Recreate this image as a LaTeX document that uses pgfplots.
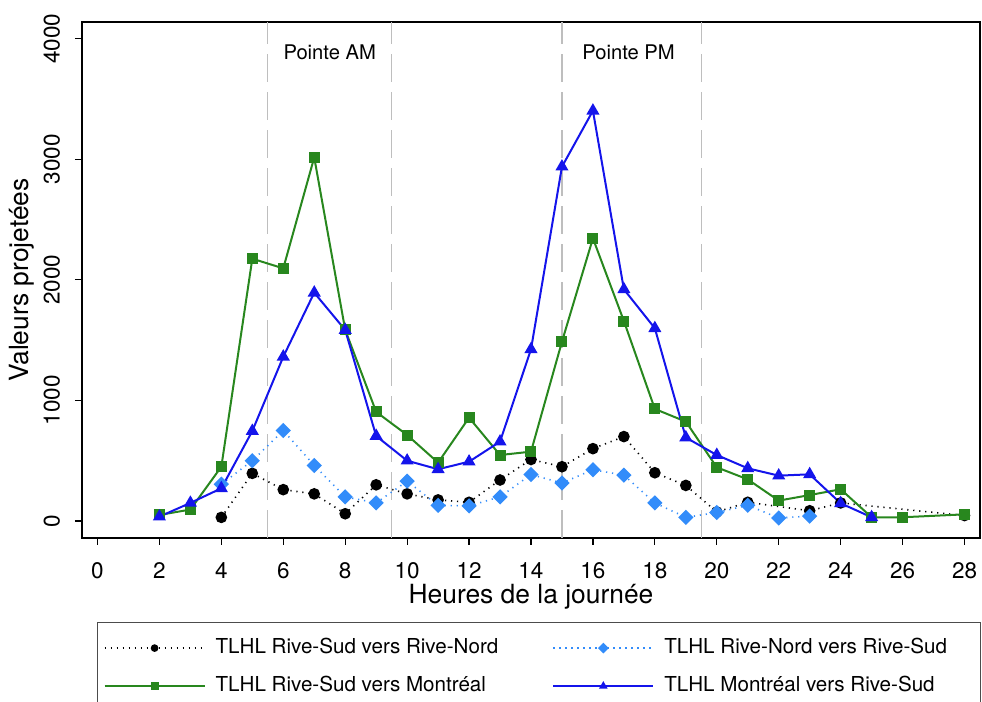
\documentclass[border=0pt]{standalone}
\usepackage{fontspec}
\setmainfont{TeX Gyre Heros}
\usepackage{pgfplots}
\pgfplotsset{compat=1.18}
\definecolor{vert}{RGB}{40,135,30}
\definecolor{bleu}{RGB}{20,20,235}
\definecolor{bleuclair}{RGB}{50,140,250}
\definecolor{grille}{RGB}{190,190,190}

\begin{document}
\begin{tikzpicture}
\useasboundingbox (0,0) rectangle (491pt,351pt);
\begin{axis}[
  at={(41pt,82pt)}, anchor=south west,
  scale only axis, width=449pt, height=258pt,
  xmin=-0.5, xmax=28.5, ymin=-141, ymax=4138,
  xtick={0,2,...,28}, ytick={0,1000,...,4000},
  tick align=outside, xtick pos=left, ytick pos=left,
  major tick length=3.5pt,
  axis line style={line width=0.9pt},
  every tick/.style={black, line width=0.6pt},
  /pgf/number format/assume math mode=true,
  /pgf/number format/1000 sep={},
  scaled y ticks=false,
  yticklabel style={xshift=-4pt, rotate=90, anchor=south, font=\fontsize{11.25}{13}\selectfont},
  xticklabel style={yshift=-5pt, font=\fontsize{11.25}{13}\selectfont},
  xlabel={Heures de la journée},
  ylabel={Valeurs projetées},
  xlabel style={at={(axis description cs:0.5,-0.1145)}, anchor=center, font=\fontsize{13.2}{15}\selectfont},
  ylabel style={at={(axis description cs:-0.0668,0.5)}, anchor=center, font=\fontsize{13.2}{15}\selectfont},
  legend columns=2,
  legend style={
    at={(0.0167,-0.1628)}, anchor=north west,
    draw=black!70, line width=0.6pt,
    inner xsep=3pt, inner ysep=8pt,
    font=\fontsize{10.3}{12}\selectfont,
    row sep=9.5pt,
    nodes={inner sep=0pt, anchor=west, text height=7.4pt, text depth=2.1pt},
    /tikz/every odd column/.append style={column sep=5pt},
    /tikz/every even column/.append style={column sep=27pt},
  },
  legend image code/.code={\draw[mark repeat=2, mark phase=2, #1, mark size=1.5pt] plot coordinates {(0pt,0pt) (25pt,0pt) (50pt,0pt)};},
]

% periodes de pointe
\addplot[grille, line width=0.6pt, dash pattern=on 14pt off 5pt, forget plot] coordinates {(5.5,-141) (5.5,4138)};
\addplot[grille, line width=0.6pt, dash pattern=on 14pt off 5pt, forget plot] coordinates {(9.5,-141) (9.5,4138)};
\addplot[grille, line width=0.6pt, dash pattern=on 14pt off 5pt, forget plot] coordinates {(15,-141) (15,4138)};
\addplot[grille, line width=0.6pt, dash pattern=on 14pt off 5pt, forget plot] coordinates {(19.5,-141) (19.5,4138)};
\node[font=\fontsize{10.1}{12}\selectfont] at (axis cs:7.5,3890) {Pointe AM};
\node[font=\fontsize{10.1}{12}\selectfont] at (axis cs:17.15,3890) {Pointe PM};

% TLHL Rive-Sud vers Rive-Nord
\addplot[black, line width=0.8pt, dash pattern=on 0.6pt off 2.4pt, mark=*, mark size=2.5pt, mark options={solid}] coordinates {
  (4,30) (5,395) (6,260) (7,225) (8,60) (9,300) (10,225) (11,175) (12,155)
  (13,340) (14,510) (15,450) (16,600) (17,700) (18,400) (19,295) (20,75)
  (21,155) (23,85) (24,150) (28,45)
};
\addlegendentry{TLHL Rive-Sud vers Rive-Nord}

% TLHL Rive-Nord vers Rive-Sud
\addplot[bleuclair, line width=0.8pt, dash pattern=on 0.6pt off 2.4pt, mark=square*, mark size=2.3pt, mark options={solid, rotate=45}] coordinates {
  (4,305) (5,500) (6,750) (7,460) (8,200) (9,150) (10,330) (11,130) (12,125)
  (13,200) (14,385) (15,315) (16,425) (17,380) (18,150) (19,30) (20,70)
  (21,130) (22,25) (23,40)
};
\addlegendentry{\makebox[155pt][l]{TLHL Rive-Nord vers Rive-Sud}}

% TLHL Rive-Sud vers Montreal
\addplot[vert, line width=1pt, mark=square*, mark size=2.25pt] coordinates {
  (2,50) (3,95) (4,450) (5,2175) (6,2095) (7,3015) (8,1585) (9,905) (10,713)
  (11,484) (12,857) (13,547) (14,575) (15,1487) (16,2344) (17,1658) (18,929)
  (19,824) (20,445) (21,345) (22,169) (23,215) (24,263) (25,31) (26,31) (28,55)
};
\addlegendentry{TLHL Rive-Sud vers Montréal}

% TLHL Montreal vers Rive-Sud
\addplot[bleu, line width=1pt, mark=triangle*, mark size=2.8pt] coordinates {
  (2,36) (3,150) (4,271) (5,746) (6,1362) (7,1893) (8,1584) (9,705) (10,500)
  (11,429) (12,492) (13,658) (14,1424) (15,2938) (16,3402) (17,1921) (18,1598)
  (19,692) (20,547) (21,437) (22,376) (23,387) (24,147) (25,31)
};
\addlegendentry{\makebox[155pt][l]{TLHL Montréal vers Rive-Sud}}

\end{axis}
\end{tikzpicture}
\end{document}
